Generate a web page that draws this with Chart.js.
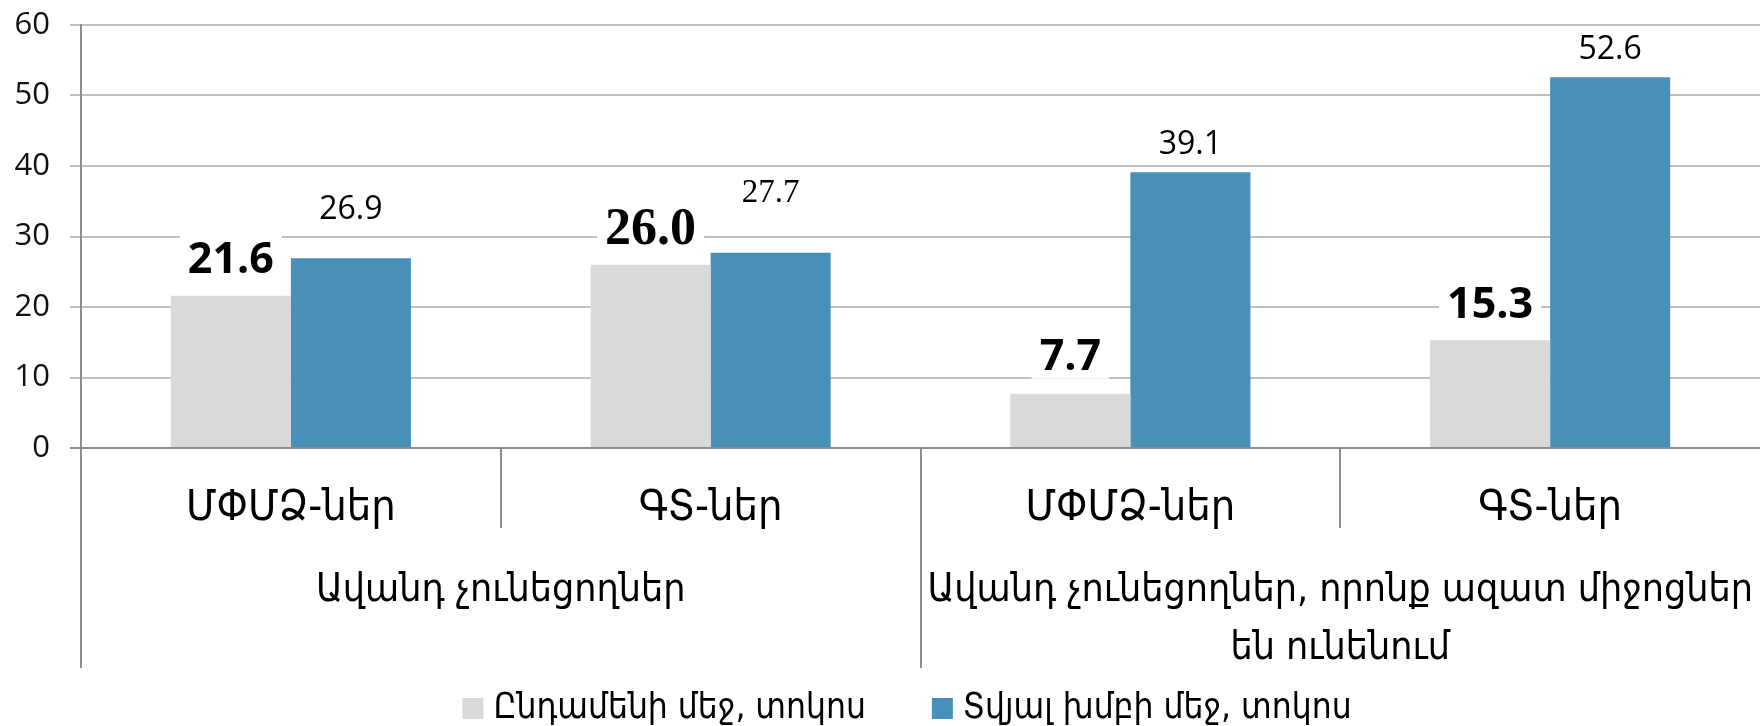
<!DOCTYPE html>
<html lang="hy">
<head>
<meta charset="utf-8">
<title>Ավանդ չունեցողներ</title>
<script src="https://cdn.jsdelivr.net/npm/chart.js@4.4.1/dist/chart.umd.min.js"></script>
<style>
  html, body { margin: 0; padding: 0; background: #fff; }
</style>
</head>
<body>
<canvas id="avandChart" width="1760" height="726"></canvas>
<script>
// categories and groups
const subLabels = ['ՄՓՄՁ-ներ', 'ԳՏ-ներ', 'ՄՓՄՁ-ներ', 'ԳՏ-ներ'];
const groupLabels = [
  ['Ավանդ չունեցողներ'],
  ['Ավանդ չունեցողներ, որոնք ազատ միջոցներ', 'են ունենում']
];
const groupSpan = [2, 2];

// series
const seriesNames = ['Ընդամենի մեջ, տոկոս', 'Տվյալ խմբի մեջ, տոկոս'];
const totalShare = [21.6, 26.0, 7.7, 15.3];
const groupShare = [26.9, 27.7, 39.1, 52.6];

const yTicks = [0, 10, 20, 30, 40, 50, 60];

const ARM = '"DejaVu Sans Condensed", "DejaVu Sans", sans-serif';
const SANS = '"Open Sans", sans-serif';
const SERIF = '"Liberation Serif", serif';
const AXIS_GREY = '#8c8c8c';

// how each series prints its values above the bars
const labelStyle = [
  { weight: 'bold', size: 43, serifSize: 52, lift: [38, 38, 39, 38], box: true },
  { weight: 'normal', size: 32, serifSize: 33, lift: [51, 62, 30, 30], box: false }
];

const valueLabels = {
  id: 'valueLabels',
  afterDatasetsDraw(chart) {
    const ctx = chart.ctx;
    chart.data.datasets.forEach((ds, di) => {
      const st = labelStyle[di];
      chart.getDatasetMeta(di).data.forEach((bar, i) => {
        const text = ds.data[i].toFixed(1);
        // the second category is set in a serif face
        const fam = i === 1 ? SERIF : SANS;
        const size = i === 1 ? st.serifSize : st.size;
        ctx.save();
        ctx.font = `${st.weight} ${size}px ${fam}`;
        const m = ctx.measureText(text);
        const cy = bar.y - st.lift[i];
        const base = cy + m.actualBoundingBoxAscent / 2;
        if (st.box) {
          ctx.fillStyle = '#fff';
          ctx.fillRect(bar.x - m.width / 2 - 8, cy - 24, m.width + 16, 48);
        }
        ctx.fillStyle = '#000';
        ctx.textAlign = 'center';
        ctx.textBaseline = 'alphabetic';
        ctx.fillText(text, bar.x, base);
        ctx.restore();
      });
    });
  }
};

// two-level category axis with separators under the plot
const groupAxis = {
  id: 'groupAxis',
  afterDraw(chart) {
    const { ctx, chartArea } = chart;
    const x = chart.scales.x;
    const bottom = chartArea.bottom;
    const half = (x.getPixelForValue(1) - x.getPixelForValue(0)) / 2;
    const edges = new Set([0]);
    let acc = 0;
    groupSpan.forEach(n => { acc += n; edges.add(acc); });

    ctx.save();
    ctx.strokeStyle = AXIS_GREY;
    ctx.lineWidth = 2;
    for (let i = 0; i < subLabels.length; i++) {
      const xp = Math.round(x.getPixelForValue(i) - half);
      ctx.beginPath();
      ctx.moveTo(xp, bottom);
      ctx.lineTo(xp, bottom + (edges.has(i) ? 220 : 80));
      ctx.stroke();
    }

    ctx.fillStyle = '#000';
    ctx.textAlign = 'center';
    ctx.textBaseline = 'alphabetic';
    ctx.font = `43px ${ARM}`;
    subLabels.forEach((lab, i) => {
      ctx.fillText(lab, x.getPixelForValue(i), bottom + 72);
    });

    ctx.font = `39px ${ARM}`;
    let first = 0;
    groupLabels.forEach((lines, g) => {
      const last = first + groupSpan[g] - 1;
      const cx = (x.getPixelForValue(first) + x.getPixelForValue(last)) / 2;
      lines.forEach((ln, k) => ctx.fillText(ln, cx, bottom + 153 + k * 58));
      first = last + 1;
    });
    ctx.restore();
  }
};

const bottomLegend = {
  id: 'bottomLegend',
  afterDraw(chart) {
    const ctx = chart.ctx;
    const box = 21, gap = 10, between = 66;
    ctx.save();
    ctx.font = `35px ${ARM}`;
    const items = chart.data.datasets.map(ds => ({
      text: ds.label, color: ds.backgroundColor, w: ctx.measureText(ds.label).width
    }));
    const total = items.reduce((s, it) => s + box + gap + it.w, 0) + between * (items.length - 1);
    let xp = chart.width / 2 + 27 - total / 2;
    const yBase = chart.height - 8;
    items.forEach(it => {
      ctx.fillStyle = it.color;
      ctx.fillRect(xp, yBase - 20, box, box);
      ctx.fillStyle = '#000';
      ctx.textBaseline = 'alphabetic';
      ctx.fillText(it.text, xp + box + gap, yBase);
      xp += box + gap + it.w + between;
    });
    ctx.restore();
  }
};

new Chart(document.getElementById('avandChart'), {
  type: 'bar',
  data: {
    labels: subLabels,
    datasets: [
      { label: seriesNames[0], data: totalShare, backgroundColor: '#d9d9d9' },
      { label: seriesNames[1], data: groupShare, backgroundColor: '#4890b8' }
    ]
  },
  options: {
    responsive: false,
    animation: false,
    devicePixelRatio: 1,
    categoryPercentage: 0.572,
    barPercentage: 1.0,
    layout: { padding: { top: 25, right: 0, bottom: 0, left: 0 } },
    plugins: {
      legend: { display: false },
      tooltip: { enabled: false }
    },
    scales: {
      x: {
        grid: { display: false },
        border: { display: false },
        ticks: { display: false },
        afterFit(scale) { scale.height = 278; }
      },
      y: {
        min: 0,
        max: 60,
        afterBuildTicks(scale) { scale.ticks = yTicks.map(v => ({ value: v })); },
        afterFit(scale) {
          scale.width = 81;
          scale.paddingTop = 0;
          scale.paddingBottom = 0;
        },
        grid: {
          color: c => (c.tick && c.tick.value === 0 ? AXIS_GREY : '#c0c0c0'),
          tickColor: c => (c.tick && c.tick.value === 0 ? AXIS_GREY : '#c0c0c0'),
          lineWidth: 2,
          tickLength: 11
        },
        border: { color: AXIS_GREY, width: 2 },
        ticks: {
          font: { family: SANS, size: 31 },
          color: '#111',
          padding: 20
        }
      }
    }
  },
  plugins: [valueLabels, groupAxis, bottomLegend]
});
</script>
</body>
</html>
